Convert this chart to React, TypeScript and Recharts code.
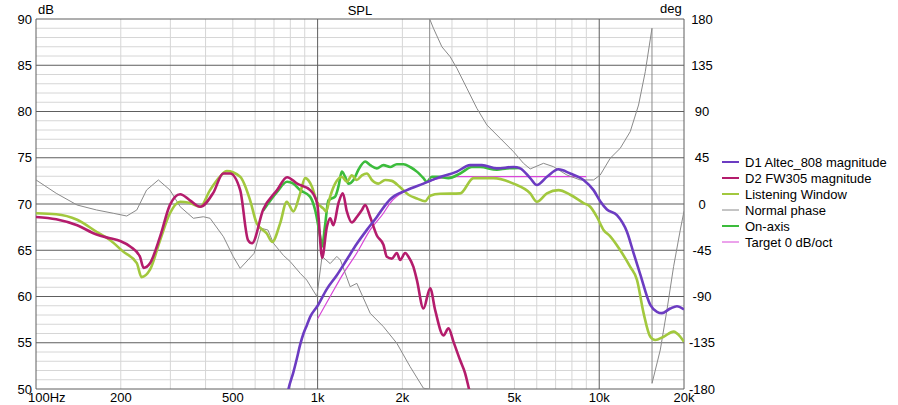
import React from 'react';
import { LineChart, Line, XAxis, YAxis, CartesianGrid } from 'recharts';

const FONT = '"Liberation Sans", Arial, sans-serif';

// D1 Altec_808 magnitude
const d1Freq = [760, 788, 820, 844, 867, 891, 916, 941, 1000, 1078, 1170, 1270, 1378, 1496, 1623, 1761, 1809, 2075, 2376, 2652, 3123, 3481, 3831, 4331, 4961, 5241, 5687, 6006, 6521, 7169, 7888, 8796, 9546, 10081, 10649, 11558, 12543, 13242, 13986, 15182, 16032, 16700, 17876, 18880, 20000];
const d1Db = [47.5, 50.0, 51.8, 53.3, 54.8, 56.0, 56.9, 57.8, 59.0, 60.8, 62.3, 64.0, 65.7, 67.2, 68.6, 70.1, 70.5, 71.5, 72.2, 72.8, 73.5, 74.2, 74.2, 73.85, 74.0, 73.85, 72.8, 72.05, 72.95, 73.75, 73.3, 72.6, 71.5, 70.3, 69.4, 68.8, 67.0, 64.7, 62.4, 59.1, 58.35, 58.2, 58.7, 58.95, 58.6];

// D2 FW305 magnitude
const d2Freq = [100, 118, 140, 164, 183, 199, 216, 234, 241, 254, 276, 299, 325, 352, 383, 426, 462, 489, 531, 566, 585, 641, 718, 779, 846, 941, 996, 1038, 1078, 1108, 1138, 1186, 1229, 1270, 1323, 1378, 1436, 1475, 1537, 1623, 1713, 1761, 1835, 1911, 1964, 2046, 2102, 2189, 2251, 2376, 2509, 2616, 2799, 2916, 3038, 3208, 3341, 3433, 3630];
const d2Db = [68.6, 68.35, 67.7, 66.7, 66.3, 66.0, 65.4, 64.3, 63.1, 63.6, 66.5, 69.9, 71.05, 70.4, 69.7, 71.2, 73.3, 73.3, 71.5, 66.1, 65.75, 69.4, 71.5, 72.9, 72.2, 71.5, 70.1, 64.2, 67.5, 68.45, 67.7, 70.1, 71.15, 69.2, 68.0, 68.6, 69.35, 69.9, 68.6, 66.6, 65.6, 64.3, 64.1, 64.7, 63.95, 64.7, 64.3, 63.2, 61.8, 58.7, 60.9, 58.5, 55.8, 56.55, 55.1, 53.1, 51.7, 50.25, 47.0];

// Listening Window
const lwFreq = [100, 118, 140, 164, 183, 204, 228, 237, 254, 276, 299, 325, 352, 383, 415, 450, 476, 531, 576, 608, 660, 690, 736, 777, 820, 867, 903, 954, 994, 1049, 1072, 1108, 1154, 1219, 1270, 1323, 1378, 1436, 1496, 1558, 1644, 1737, 1835, 1964, 2102, 2251, 2409, 2509, 2725, 3208, 3577, 4212, 4961, 5687, 6006, 6521, 7169, 7888, 8796, 9290, 9813, 10358, 10941, 11874, 12885, 13615, 14373, 15182, 15814, 16921, 18365, 19400, 20000];
const lwDb = [69.0, 68.9, 68.3, 67.0, 66.1, 64.85, 63.6, 62.1, 62.9, 66.1, 69.0, 70.25, 70.1, 69.7, 71.5, 72.95, 73.55, 72.95, 70.4, 67.9, 66.8, 65.9, 67.9, 70.25, 69.2, 71.15, 72.8, 71.9, 70.25, 69.5, 69.2, 70.8, 72.2, 72.95, 72.4, 73.1, 72.6, 73.1, 73.3, 72.6, 72.2, 72.6, 72.5, 71.8, 71.0, 70.6, 70.3, 70.9, 71.1, 71.15, 72.8, 72.8, 72.2, 71.15, 70.25, 71.15, 71.5, 71.0, 70.1, 69.7, 68.6, 67.2, 66.5, 65.0, 63.2, 61.8, 58.2, 55.65, 55.3, 55.65, 56.2, 55.65, 55.1];

// Normal phase (deg)
const phFreq = [100, 118, 140, 164, 188, 210, 228, 247, 272, 299, 325, 362, 393, 415, 463, 502, 531, 595, 630, 666, 697, 756, 799, 867, 915, 994, 1037, 1108, 1170, 1205, 1305, 1378, 1537, 1713, 1911, 2131, 2376, 2499, 2500, 2578, 2762, 2956, 3123, 3389, 3677, 3990, 4449, 4961, 5383, 5687, 6340, 6881, 7677, 8559, 9546, 10081, 10941, 11874, 12885, 13792, 14572, 15393, 15400, 16474, 17398, 18364, 19400, 20000];
const phDeg = [23.4, 10.4, -1.0, -5.8, -9.0, -11.7, -5.8, 13.6, 23.4, 13.6, -2.6, -13.9, -12.4, -13.9, -31.8, -51.3, -62.6, -48.0, -23.6, -25.3, -38.2, -50.0, -56.0, -67.4, -74.0, -90.0, -51.0, -58.0, -51.0, -54.5, -80.5, -77.2, -106.3, -119.4, -135.5, -158.3, -179.3, -180, 180, 171, 153, 143.3, 132, 112.6, 93.1, 76.9, 63.9, 50.9, 39.6, 34.1, 39.6, 36.3, 28.2, 23.4, 23.4, 28.2, 44.5, 54.2, 70.4, 96.3, 128.7, 171, -174.5, -142, -103, -61, -25.3, -7];

// On-axis
const onFreq = [641, 718, 779, 820, 867, 940, 980, 1021, 1037, 1063, 1092, 1123, 1154, 1186, 1219, 1252, 1287, 1341, 1396, 1475, 1537, 1623, 1713, 1809, 1911, 2018, 2131, 2251, 2376, 2443, 2545, 2686, 2916, 3208, 3530, 3778, 4331, 4700, 5241];
const onDb = [69.3, 71.3, 72.4, 72.2, 71.5, 70.8, 69.35, 66.5, 65.4, 67.7, 70.4, 70.6, 70.8, 71.9, 73.5, 72.95, 72.2, 72.6, 73.7, 74.6, 74.2, 73.85, 74.2, 74.0, 74.3, 74.3, 74.0, 73.5, 72.8, 72.4, 72.95, 72.95, 72.8, 73.3, 74.0, 74.0, 73.7, 73.85, 73.9];

// Target 0 dB/oct
const tgFreq = [1000, 1108, 1235, 1378, 1537, 1713, 1809, 2075, 2376, 2652, 3123, 9000];
const tgDb = [57.6, 60.0, 62.5, 64.7, 67.2, 69.0, 70.1, 71.5, 72.2, 72.7, 72.95, 72.95];

const freqTicks = [100, 200, 500, 1000, 2000, 5000, 10000, 20000];
const freqTickLabels = ['100Hz', '200', '500', '1k', '2k', '5k', '10k', '20k'];
const dbTicks = [50, 55, 60, 65, 70, 75, 80, 85, 90];
const degTicks = [-180, -135, -90, -45, 0, 45, 90, 135, 180];

const majorFreqGrid = [100, 1000, 10000, 20000];
const minorFreqGrid = [200, 300, 400, 500, 600, 700, 800, 900, 2000, 3000, 4000, 5000, 6000, 7000, 8000, 9000];
const minorDbGrid: number[] = [];
for (let d = 51; d < 90; d++) if (d % 5 !== 0) minorDbGrid.push(d);

const toPoints = (freq: number[], vals: number[]) => freq.map((f, i) => ({ f, v: vals[i] }));

const series = [
  { name: 'D1 Altec_808 magnitude', color: '#6c3cc2', width: 2.6, thin: false },
  { name: 'D2 FW305 magnitude', color: '#b41c6c', width: 2.6, thin: false },
  { name: 'Listening Window', color: '#a2c83e', width: 2.6, thin: false },
  { name: 'Normal phase', color: '#8a8a8a', width: 1, thin: true },
  { name: 'On-axis', color: '#3cbc3c', width: 2.6, thin: false },
  { name: 'Target 0 dB/oct', color: '#d846d8', width: 1.2, thin: true },
];

const FreqTick = (p: any) => {
  const i = freqTicks.indexOf(p.payload.value);
  const first = i === 0;
  return (
    <text x={first ? p.x - 8 : p.x} y={p.y} dy={13} textAnchor={first ? 'start' : 'middle'} fontSize={13} fontFamily={FONT} fill="#000">
      {freqTickLabels[i]}
    </text>
  );
};

const DbTick = (p: any) => (
  <text x={p.x} y={p.y} dy="0.36em" textAnchor="end" fontSize={13} fontFamily={FONT} fill="#000">
    {p.payload.value}
  </text>
);

const DegTick = (p: any) => (
  <text x={p.x} y={p.y} dy="0.36em" textAnchor="middle" fontSize={13} fontFamily={FONT} fill="#000">
    {p.payload.value}
  </text>
);

const App: React.FC = () => {
  const s = series;
  return (
    <div style={{ position: 'absolute', left: 0, top: 0, width: 898, height: 405, background: '#fff', fontFamily: FONT, overflow: 'hidden' }}>
      <LineChart width={898} height={405} margin={{ top: 19, right: 0, bottom: 0, left: 0 }}>
        <CartesianGrid yAxisId="db" horizontalValues={minorDbGrid} verticalValues={minorFreqGrid} stroke="#d6d6d6" strokeWidth={1} />
        <CartesianGrid yAxisId="db" horizontalValues={dbTicks} verticalValues={majorFreqGrid} stroke="#5e5e5e" strokeWidth={1} />
        <XAxis
          dataKey="f"
          type="number"
          scale="log"
          domain={[100, 20000]}
          ticks={freqTicks}
          interval={0}
          allowDataOverflow
          axisLine={false}
          tickLine={false}
          tickSize={0}
          tickMargin={0}
          height={16}
          tick={FreqTick}
        />
        <YAxis yAxisId="db" domain={[50, 90]} ticks={dbTicks} interval={0} allowDataOverflow width={36} axisLine={false} tickLine={false} tickSize={0} tickMargin={4} tick={DbTick} />
        <YAxis yAxisId="deg" orientation="right" domain={[-180, 180]} ticks={degTicks} interval={0} allowDataOverflow width={214} axisLine={false} tickLine={false} tickSize={0} tickMargin={18} tick={DegTick} />

        <Line yAxisId="db" data={toPoints(tgFreq, tgDb)} dataKey="v" type="monotone" stroke={s[5].color} strokeWidth={s[5].width} dot={false} activeDot={false} isAnimationActive={false} />
        <Line yAxisId="db" data={toPoints(onFreq, onDb)} dataKey="v" type="monotone" stroke={s[4].color} strokeWidth={s[4].width} dot={false} activeDot={false} isAnimationActive={false} />
        <Line yAxisId="deg" data={toPoints(phFreq, phDeg)} dataKey="v" type="linear" stroke={s[3].color} strokeWidth={s[3].width} dot={false} activeDot={false} isAnimationActive={false} />
        <Line yAxisId="db" data={toPoints(lwFreq, lwDb)} dataKey="v" type="monotone" stroke={s[2].color} strokeWidth={s[2].width} dot={false} activeDot={false} isAnimationActive={false} />
        <Line yAxisId="db" data={toPoints(d2Freq, d2Db)} dataKey="v" type="monotone" stroke={s[1].color} strokeWidth={s[1].width} dot={false} activeDot={false} isAnimationActive={false} />
        <Line yAxisId="db" data={toPoints(d1Freq, d1Db)} dataKey="v" type="monotone" stroke={s[0].color} strokeWidth={s[0].width} dot={false} activeDot={false} isAnimationActive={false} />
      </LineChart>

      <svg width={898} height={405} style={{ position: 'absolute', left: 0, top: 0, pointerEvents: 'none' }}>
        <g fontFamily={FONT} fontSize={13} fill="#000">
          <text x={38} y={14}>dB</text>
          <text x={360} y={15} textAnchor="middle">SPL</text>
          <text x={660} y={13}>deg</text>
          {series.map((it, i) => (
            <g key={it.name}>
              <line x1={722} x2={739} y1={162 + i * 16} y2={162 + i * 16} stroke={it.color} strokeWidth={it.thin ? 1 : 2} />
              <text x={745} y={162 + i * 16} dy="0.36em">{it.name}</text>
            </g>
          ))}
        </g>
      </svg>
    </div>
  );
};

export default App;
